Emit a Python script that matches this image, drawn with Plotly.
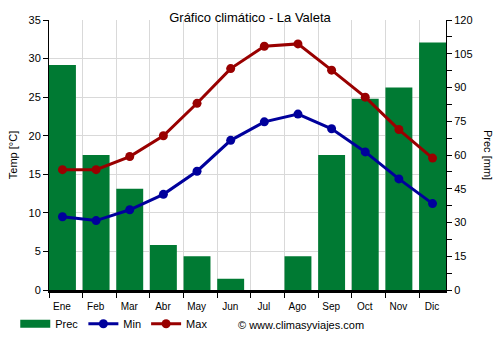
import plotly.graph_objects as go

# Monthly climate data for La Valeta
months = ["Ene", "Feb", "Mar", "Abr", "May", "Jun",
          "Jul", "Ago", "Sep", "Oct", "Nov", "Dic"]
prec_mm = [100, 60, 45, 20, 15, 5, 0, 15, 60, 85, 90, 110]
temp_min = [9.5, 9.0, 10.4, 12.4, 15.4, 19.4, 21.8, 22.8, 20.9, 17.9, 14.4, 11.2]
temp_max = [15.6, 15.6, 17.3, 20.0, 24.2, 28.7, 31.6, 31.9, 28.5, 25.0, 20.8, 17.1]

GREEN = "#007a33"
BLUE = "#00009c"
RED = "#990000"
FONT = "Liberation Sans, Arial, sans-serif"

xpos = list(range(len(months)))
# month boundaries sit a little right of each month's centre
boundaries = [i - 0.4 for i in xpos]

fig = go.Figure()

# precipitation bars live on the base axis (right side) so the
# temperature lines, on the overlaying axis, are drawn on top
fig.add_trace(go.Bar(
    x=xpos, y=prec_mm, width=0.8, marker=dict(color=GREEN, line=dict(width=0)),
    name="Prec", yaxis="y", showlegend=False,
))
# legend swatch for precipitation (a thick green stroke)
fig.add_trace(go.Scatter(
    x=[None], y=[None], mode="lines", name="Prec", yaxis="y2",
    line=dict(color=GREEN, width=8),
))
fig.add_trace(go.Scatter(
    x=xpos, y=temp_min, mode="lines+markers", name="Min", yaxis="y2",
    line=dict(color=BLUE, width=3), marker=dict(color=BLUE, size=9),
))
fig.add_trace(go.Scatter(
    x=xpos, y=temp_max, mode="lines+markers", name="Max", yaxis="y2",
    line=dict(color=RED, width=3), marker=dict(color=RED, size=9),
))

fig.update_layout(
    width=500, height=350,
    margin=dict(l=49, r=54, t=20, b=58),
    paper_bgcolor="white", plot_bgcolor="white",
    font=dict(family=FONT, size=11, color="#000"),
    title=dict(text="Gráfico climático - La Valeta", x=0.5, xanchor="center",
               y=1 - 17 / 350, yanchor="middle", font=dict(size=13, color="#000")),
    bargap=0.2,
    xaxis=dict(
        range=[-0.4, 11.4], tickmode="array", tickvals=boundaries, ticktext=months,
        ticklabelshift=13, ticks="outside", ticklen=5, tickcolor="#000",
        showgrid=True, gridcolor="#d9d9d9", gridwidth=1,
        showline=True, linecolor="#000", linewidth=3,
        tickfont=dict(size=10), zeroline=False, fixedrange=True,
    ),
    yaxis=dict(
        range=[0, 120], dtick=15, side="right",
        ticks="outside", ticklen=5, tickcolor="#000",
        minor=dict(dtick=7.5, ticks="outside", ticklen=5, tickcolor="#000", showgrid=False),
        showgrid=False, showline=True, linecolor="#000", linewidth=1, zeroline=False,
    ),
    yaxis2=dict(
        range=[0, 35], dtick=5, overlaying="y", side="left",
        ticks="outside", ticklen=5, tickcolor="#000",
        showgrid=True, gridcolor="#d9d9d9", gridwidth=1,
        showline=True, linecolor="#000", linewidth=1, zeroline=False,
        title=dict(text="Temp [°C]", font=dict(size=11), standoff=8),
    ),
    legend=dict(
        orientation="h", x=-0.085, xanchor="left", y=-0.125, yanchor="middle",
        font=dict(size=11), itemwidth=30, traceorder="normal",
        bgcolor="rgba(0,0,0,0)",
    ),
    annotations=[
        dict(text="Prec [mm]", textangle=90, xref="paper", yref="paper",
             x=1 + 42 / 397, y=0.5, xanchor="center", yanchor="middle",
             showarrow=False, font=dict(size=11)),
        dict(text="© www.climasyviajes.com", xref="paper", yref="paper",
             x=(236 - 49) / 397, y=-(327 - 292) / 272, xanchor="left", yanchor="middle",
             showarrow=False, font=dict(size=11)),
    ],
)

fig.write_html("out.html")
